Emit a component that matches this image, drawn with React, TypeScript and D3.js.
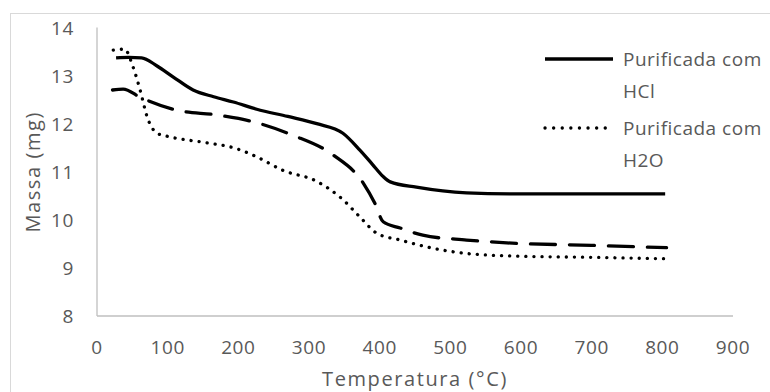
import { useEffect, useRef } from 'react';
import * as d3 from 'd3';

// temperature (°C) and mass (mg)
const hclTemp = [27, 45, 63, 85, 108, 136, 165, 193, 226, 270, 311, 348, 372, 390, 405, 415, 452, 523, 584, 700, 804];
const hclMass = [13.37, 13.38, 13.37, 13.2, 12.97, 12.7, 12.56, 12.45, 12.3, 12.15, 12.0, 11.8, 11.45, 11.15, 10.9, 10.79, 10.68, 10.56, 10.54, 10.54, 10.54];

const dashTemp = [22, 37, 61, 113, 170, 226, 277, 334, 377, 393, 405, 429, 461, 523, 580, 700, 806];
const dashMass = [12.7, 12.72, 12.55, 12.28, 12.18, 12.02, 11.76, 11.35, 10.76, 10.35, 9.96, 9.83, 9.68, 9.58, 9.52, 9.47, 9.42];

const h2oTemp = [23, 39, 51, 61, 71, 85, 99, 156, 193, 226, 263, 311, 348, 372, 396, 429, 475, 523, 584, 700, 806];
const h2oMass = [13.53, 13.55, 13.18, 12.7, 12.14, 11.8, 11.74, 11.6, 11.5, 11.31, 11.03, 10.8, 10.42, 10.06, 9.72, 9.58, 9.41, 9.3, 9.25, 9.22, 9.19];

const xTicks = [0, 100, 200, 300, 400, 500, 600, 700, 800, 900];
const yTicks = [8, 9, 10, 11, 12, 13, 14];

const legendItems = [
  { lines: ['Purificada com', 'HCl'], dash: 'none', cap: 'butt' },
  { lines: ['Purificada com', 'H2O'], dash: '0.1 8.5', cap: 'round' },
];

const W = 770;
const H = 392;
const textColor = '#595959';
const font = '"Open Sans", sans-serif';

export default function App() {
  const svgRef = useRef<SVGSVGElement>(null);

  useEffect(() => {
    if (!svgRef.current) return;
    const svg = d3.select(svgRef.current);
    svg.selectAll('*').remove();

    const x = d3.scaleLinear().domain([0, 900]).range([97, 733]);
    const y = d3.scaleLinear().domain([8, 14]).range([316, 27.5]);

    // chart border
    svg.append('rect')
      .attr('x', 10.5).attr('y', 13.5)
      .attr('width', 800).attr('height', 400)
      .attr('fill', 'white')
      .attr('stroke', '#d9d9d9');

    // axes lines
    svg.append('line')
      .attr('x1', x(0)).attr('x2', x(0))
      .attr('y1', y(14)).attr('y2', y(8))
      .attr('stroke', '#bfbfbf').attr('stroke-width', 1.3);
    svg.append('line')
      .attr('x1', x(0)).attr('x2', x(900))
      .attr('y1', y(8)).attr('y2', y(8))
      .attr('stroke', '#bfbfbf').attr('stroke-width', 1.3);

    // tick labels
    svg.selectAll('.xt')
      .data(xTicks)
      .enter()
      .append('text')
      .attr('x', d => x(d))
      .attr('y', 354)
      .text(d => d)
      .style('text-anchor', 'middle')
      .style('font-family', font)
      .style('font-size', '19px')
      .style('letter-spacing', '0.6px')
      .style('fill', textColor);

    svg.selectAll('.yt')
      .data(yTicks)
      .enter()
      .append('text')
      .attr('x', 74)
      .attr('y', d => y(d) + 7)
      .text(d => d)
      .style('text-anchor', 'end')
      .style('font-family', font)
      .style('font-size', '19px')
      .style('letter-spacing', '0.6px')
      .style('fill', textColor);

    // axis titles
    svg.append('text')
      .attr('x', (x(0) + x(900)) / 2)
      .attr('y', 386)
      .text('Temperatura (°C)')
      .style('text-anchor', 'middle')
      .style('font-family', font)
      .style('font-size', '20px')
      .style('letter-spacing', '1.6px')
      .style('fill', textColor);

    svg.append('text')
      .attr('transform', `translate(40,${(y(8) + y(14)) / 2}) rotate(-90)`)
      .text('Massa (mg)')
      .style('text-anchor', 'middle')
      .style('font-family', font)
      .style('font-size', '20px')
      .style('letter-spacing', '1.6px')
      .style('fill', textColor);

    const line = d3.line<[number, number]>()
      .x(d => x(d[0]))
      .y(d => y(d[1]))
      .curve(d3.curveMonotoneX);

    const series = [
      { data: d3.zip(hclTemp, hclMass) as [number, number][], dash: 'none', cap: 'butt' },
      { data: d3.zip(dashTemp, dashMass) as [number, number][], dash: '25 14', cap: 'round' },
      { data: d3.zip(h2oTemp, h2oMass) as [number, number][], dash: '0.1 8', cap: 'round' },
    ];

    series.forEach(s => {
      svg.append('path')
        .attr('d', line(s.data))
        .attr('fill', 'none')
        .attr('stroke', 'black')
        .attr('stroke-width', 3.3)
        .attr('stroke-dasharray', s.dash)
        .attr('stroke-linecap', s.cap)
        .attr('stroke-linejoin', 'round');
    });

    // legend
    legendItems.forEach((item, i) => {
      const top = 59 + i * 69;
      svg.append('line')
        .attr('x1', 545).attr('x2', 613)
        .attr('y1', top).attr('y2', top)
        .attr('stroke', 'black')
        .attr('stroke-width', 3.3)
        .attr('stroke-dasharray', item.dash)
        .attr('stroke-linecap', item.cap);
      item.lines.forEach((t, j) => {
        svg.append('text')
          .attr('x', 623)
          .attr('y', top + 7 + j * 32)
          .text(t)
          .style('font-family', font)
          .style('font-size', '19px')
          .style('letter-spacing', '0.5px')
          .style('fill', textColor);
      });
    });
  }, []);

  return (
    <svg
      ref={svgRef}
      width={W}
      height={H}
      style={{ position: 'absolute', left: 0, top: 0, background: 'white' }}
    />
  );
}
